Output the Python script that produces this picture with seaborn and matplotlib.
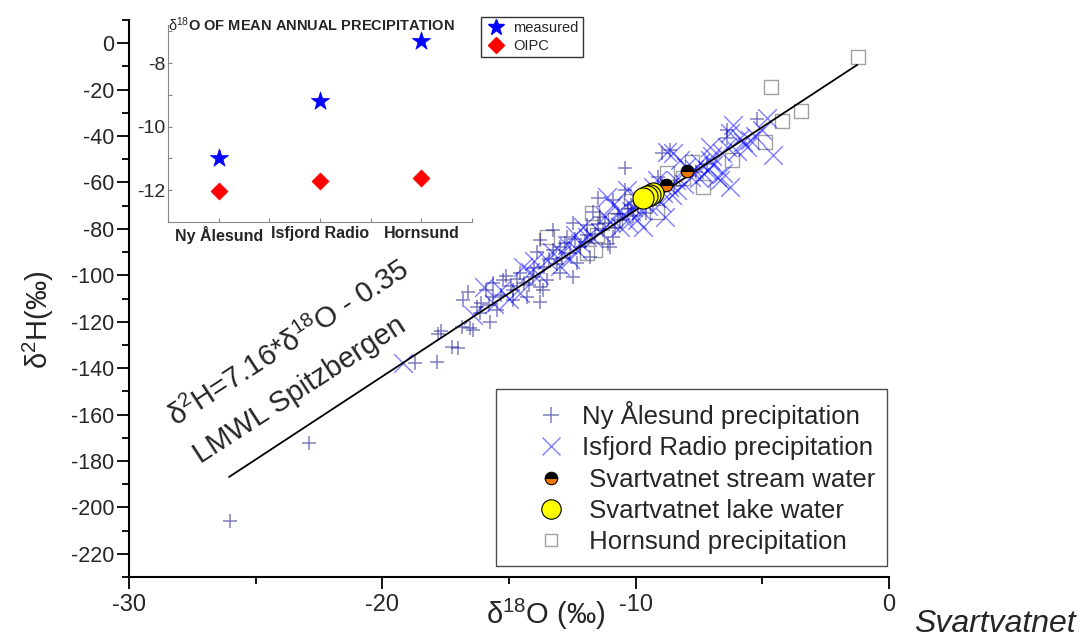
import seaborn as sns
import matplotlib.pyplot as plt
from matplotlib.lines import Line2D
from matplotlib.ticker import MultipleLocator

# ---------------- STYLE ----------------
sns.set_style("ticks")
plt.rcParams["font.family"] = ["Liberation Sans", "DejaVu Sans"]
plt.rcParams["mathtext.fontset"] = "custom"
plt.rcParams["mathtext.rm"] = "Liberation Sans"
plt.rcParams["mathtext.it"] = "Liberation Sans:italic"
plt.rcParams["mathtext.bf"] = "Liberation Sans:bold"
plt.rcParams["axes.unicode_minus"] = False

# ---------------- DATA ----------------
# Ny Alesund precipitation (d18O, d2H)
ny_x = [-26.0, -22.9, -18.7, -17.84, -17.25, -17.0, -17.8, -17.7, -16.85, -16.4,
        -16.8, -16.6, -16.1, -16.54, -15.75, -16.14, -16.26, -15.47, -15.63, -14.84,
        -13.77, -14.3, -13.65, -14.84, -15.63, -15.24, -14.56, -14.05, -13.77, -12.98,
        -13.5, -12.47, -11.8, -13.26, -13.77, -13.26, -12.7, -12.47, -11.0, -10.9,
        -11.68, -10.9, -11.48, -10.42, -10.42, -8.96, -6.4, -6.4, -5.21, -8.64,
        -12.2, -12.0, -11.6, -11.3, -12.9, -13.1, -12.6, -11.9, -10.6, -10.3,
        -9.9, -10.1, -9.6, -9.3, -14.4, -14.9, -15.3, -14.0, -13.4, -11.4,
        -10.8, -12.3, -8.5, -7.6, -7.2, -9.1, -11.1, -13.9,
        -15.9, -15.1, -14.7, -14.2, -13.6, -13.0, -12.8, -12.4, -11.9, -11.5,
        -11.2, -10.7, -10.2, -9.8, -15.8]
ny_y = [-205.9, -172.3, -137.8, -137.4, -131.0, -131.4, -125.3, -124.0, -122.3, -123.6,
        -110.7, -107.2, -112.0, -122.8, -120.2, -116.3, -113.7, -115.0, -109.4, -110.7,
        -111.6, -109.4, -106.4, -106.4, -103.4, -102.1, -99.1, -100.8, -105.0, -99.1,
        -102.1, -100.8, -92.2, -89.2, -84.8, -80.5, -83.6, -77.5, -87.9, -83.6,
        -72.8, -67.6, -66.8, -63.3, -53.8, -47.4, -40.9, -37.5, -32.7, -46.0,
        -88.0, -85.5, -82.0, -80.5, -92.5, -95.0, -90.5, -78.5, -76.0, -71.5,
        -70.5, -74.5, -73.0, -69.0, -103.5, -104.8, -108.5, -97.0, -93.0, -75.0,
        -79.5, -94.5, -61.5, -55.5, -52.0, -57.5, -86.5, -90.0,
        -106.5, -100.5, -101.5, -104.0, -96.5, -88.0, -86.0, -84.5, -82.5, -78.0,
        -77.5, -73.5, -69.5, -67.5, -113.0]

# Isfjord Radio precipitation
is_x = [-19.2, -16.0, -14.56, -14.17, -14.45, -13.5, -12.3, -12.2, -12.08, -9.7,
        -10.6, -11.13, -10.34, -10.9, -10.6, -9.94, -10.1, -9.16, -8.84, -8.56,
        -8.37, -8.25, -8.76, -8.52, -6.79, -6.55, -6.94, -7.18, -7.46, -7.06,
        -7.06, -6.67, -6.27, -5.88, -6.4, -5.6, -5.76, -6.27, -6.16, -4.81,
        -4.58, -15.6, -15.0, -13.0, -12.6, -11.7, -11.4, -11.0, -10.3, -9.8,
        -9.5, -9.0, -8.7, -8.1, -7.8, -7.5, -7.3, -6.0, -5.3, -5.0,
        -12.7, -13.8, -16.4, -8.0, -9.3, -10.0,
        -14.0, -13.3, -12.9, -12.4, -11.9, -11.2, -10.5, -10.2, -9.7, -9.2,
        -8.9, -8.4, -7.7, -7.0, -6.6, -5.5, -15.3]
is_y = [-137.8, -105.0, -107.7, -98.6, -96.5, -93.5, -89.2, -86.1, -79.2, -79.2,
        -79.2, -66.3, -63.3, -69.8, -71.9, -76.2, -70.6, -59.0, -74.9, -65.5,
        -63.3, -50.4, -46.9, -47.4, -57.7, -56.0, -52.5, -54.7, -51.7, -50.4,
        -44.8, -59.0, -62.0, -40.9, -44.8, -44.8, -42.6, -38.8, -35.3, -32.3,
        -48.2, -112.5, -110.0, -96.0, -93.0, -84.0, -81.5, -77.0, -77.5, -72.0,
        -70.0, -68.5, -62.0, -60.5, -57.5, -58.0, -56.5, -46.5, -40.0, -37.5,
        -87.0, -100.0, -117.0, -53.5, -62.0, -66.0,
        -94.0, -90.0, -90.5, -82.5, -83.5, -74.5, -74.0, -72.5, -68.5, -66.5,
        -64.5, -59.0, -54.0, -48.5, -47.5, -41.5, -106.5]

# Hornsund precipitation
hs_x = [-1.22, -4.65, -3.47, -4.22, -4.89, -6.2, -7.77, -7.34, -8.76, -8.13,
        -10.18, -9.16, -11.72, -10.81, -11.52, -11.6, -11.9, -13.5]
hs_y = [-6.0, -18.9, -29.3, -33.6, -42.6, -50.4, -51.3, -62.0, -56.0, -58.1,
        -68.0, -72.8, -73.2, -76.2, -82.7, -89.2, -90.4, -83.6]

# Svartvatnet stream / lake water
st_x = [-7.97, -8.8]
st_y = [-55.1, -61.2]
lk_x = [-9.3, -9.45, -9.55, -9.7]
lk_y = [-64.6, -65.5, -66.0, -66.8]

# LMWL Spitzbergen end points
lmwl_x = [-26.05, -1.25]
lmwl_y = [-186.9, -9.3]

# inset: d18O of mean annual precipitation
stations = ["Ny Ålesund", "Isfjord Radio", "Hornsund"]
measured = [-11.0, -9.2, -7.3]
oipc = [-12.03, -11.72, -11.62]

# ---------------- FIGURE ----------------
fig = plt.figure(figsize=(10.8, 6.39), dpi=100)
ax = fig.add_axes([0.1194, 0.0970, 0.7037, 0.8717])

sns.scatterplot(x=hs_x, y=hs_y, marker="s", s=110, color="white",
                edgecolor="#a0a0a0", linewidth=1.0, ax=ax, zorder=2)
sns.scatterplot(x=ny_x, y=ny_y, marker="+", s=110, color="navy",
                alpha=0.5, linewidth=1.1, ax=ax, zorder=3)
sns.scatterplot(x=is_x, y=is_y, marker="x", s=180, color="blue",
                alpha=0.5, linewidth=1.0, ax=ax, zorder=3)
sns.lineplot(x=lmwl_x, y=lmwl_y, color="black", linewidth=1.3, ax=ax, zorder=4)
ax.plot(st_x, st_y, "o", ms=9, mfc="black", mfcalt="#f07800", fillstyle="top",
        mec="black", mew=0.8, ls="none", zorder=5)
sns.scatterplot(x=lk_x, y=lk_y, marker="o", s=230, color="#ffff00",
                edgecolor="black", linewidth=0.8, ax=ax, zorder=6)

ax.set_xlim(-30, 0)
ax.set_ylim(-230, 10)
ax.xaxis.set_major_locator(MultipleLocator(10))
ax.xaxis.set_minor_locator(MultipleLocator(5))
ax.yaxis.set_major_locator(MultipleLocator(20))
ax.yaxis.set_minor_locator(MultipleLocator(10))
ax.tick_params(which="major", direction="out", length=8.5, width=1.3, color="black")
ax.tick_params(which="minor", direction="out", length=5, width=1.3, color="black")
ax.tick_params(axis="x", labelsize=17, pad=4)
ax.tick_params(axis="y", labelsize=15.5, pad=2)
for s in ["top", "right"]:
    ax.spines[s].set_visible(False)
for s in ["left", "bottom"]:
    ax.spines[s].set_linewidth(1.5)
    ax.spines[s].set_color("black")
ax.set_xlabel("")
ax.set_ylabel("")

fig.text(546 / 1080, 1 - 614 / 639, r"$\mathrm{\delta}^{18}$O (‰)",
         size=21, ha="center", va="center")
fig.text(38 / 1080, 1 - 320 / 639, r"$\mathrm{\delta}^{2}$H(‰)",
         size=21, rotation=90, ha="center", va="center")
fig.text(995 / 1080, 1 - 624 / 639, "Svartvatnet", style="italic",
         size=23, ha="center", va="center")

# LMWL annotation
fig.text(289 / 1080, 1 - 344 / 639, r"$\mathrm{\delta}^{2}$H=7.16*$\mathrm{\delta}^{18}$O - 0.35",
         size=21, rotation=33, rotation_mode="anchor", ha="center", va="center")
fig.text(300 / 1080, 1 - 390 / 639, "LMWL Spitzbergen",
         size=21, rotation=33, rotation_mode="anchor", ha="center", va="center")

# main legend
handles = [
    Line2D([], [], marker="+", ls="none", color="navy", alpha=0.5, ms=11, mew=1.1),
    Line2D([], [], marker="x", ls="none", color="blue", alpha=0.5, ms=13, mew=1.0),
    Line2D([], [], marker="o", ls="none", ms=9, mfc="black", mfcalt="#f07800",
           fillstyle="top", mec="black", mew=0.8),
    Line2D([], [], marker="o", ls="none", ms=14, mfc="#ffff00", mec="black", mew=0.8),
    Line2D([], [], marker="s", ls="none", ms=8, mfc="white", mec="#a0a0a0", mew=1.0),
]
labels = ["Ny Ålesund precipitation", "Isfjord Radio precipitation",
          " Svartvatnet stream water", " Svartvatnet lake water",
          " Hornsund precipitation"]
leg = fig.legend(handles, labels, loc="lower right",
                 bbox_to_anchor=(887 / 1080, (639 - 566) / 639),
                 fontsize=18.5, frameon=True, fancybox=False, borderaxespad=0,
                 borderpad=0.45, handlelength=3.4, handletextpad=-0.5,
                 labelspacing=0.29, numpoints=1)
leg.get_frame().set_edgecolor("#222222")
leg.get_frame().set_linewidth(1.0)

# ---------------- INSET ----------------
axi = fig.add_axes([0.1556, 0.6526, 0.2815, 0.3083])
axi.set_facecolor("white")
sns.scatterplot(x=stations, y=measured, marker="*", s=190, color="blue",
                edgecolor="blue", linewidth=0.5, ax=axi, zorder=3)
sns.scatterplot(x=stations, y=oipc, marker="D", s=75, color="red",
                edgecolor="red", linewidth=0.5, ax=axi, zorder=3)
axi.set_xlim(-0.5, 2.5)
axi.set_ylim(-13, -6.8)
axi.yaxis.set_major_locator(MultipleLocator(2))
axi.yaxis.set_minor_locator(MultipleLocator(1))
axi.set_xticks([0, 1, 2])
axi.set_xticks([-0.5, 0.5, 1.5, 2.5], minor=True)
axi.tick_params(which="both", direction="in", length=3, width=0.8, color="#888888")
axi.tick_params(axis="y", labelsize=14, pad=2)
axi.tick_params(axis="x", labelsize=11.5, pad=3)
for lab in axi.get_xticklabels():
    lab.set_fontweight("bold")
for s in ["top", "right"]:
    axi.spines[s].set_visible(False)
for s in ["left", "bottom"]:
    axi.spines[s].set_linewidth(0.8)
    axi.spines[s].set_color("#888888")
axi.set_xlabel("")
axi.set_ylabel("")
axi.text(0.0, 1.0, r"$\mathrm{\delta}^{18}$O OF MEAN ANNUAL PRECIPITATION",
         transform=axi.transAxes, fontweight="bold", size=10.5,
         ha="left", va="center")

ins_handles = [
    Line2D([], [], marker="*", ls="none", color="blue", ms=12),
    Line2D([], [], marker="D", ls="none", color="red", ms=8),
]
leg2 = fig.legend(ins_handles, ["measured", "OIPC"], loc="upper left",
                  bbox_to_anchor=(481 / 1080, 1 - 17 / 639), fontsize=10.5,
                  frameon=True, fancybox=False, borderaxespad=0, borderpad=0.3,
                  handlelength=1.4, handletextpad=0.5, labelspacing=0.25)
leg2.get_frame().set_edgecolor("black")
leg2.get_frame().set_linewidth(1.0)

fig.savefig("out.png", dpi=100)
